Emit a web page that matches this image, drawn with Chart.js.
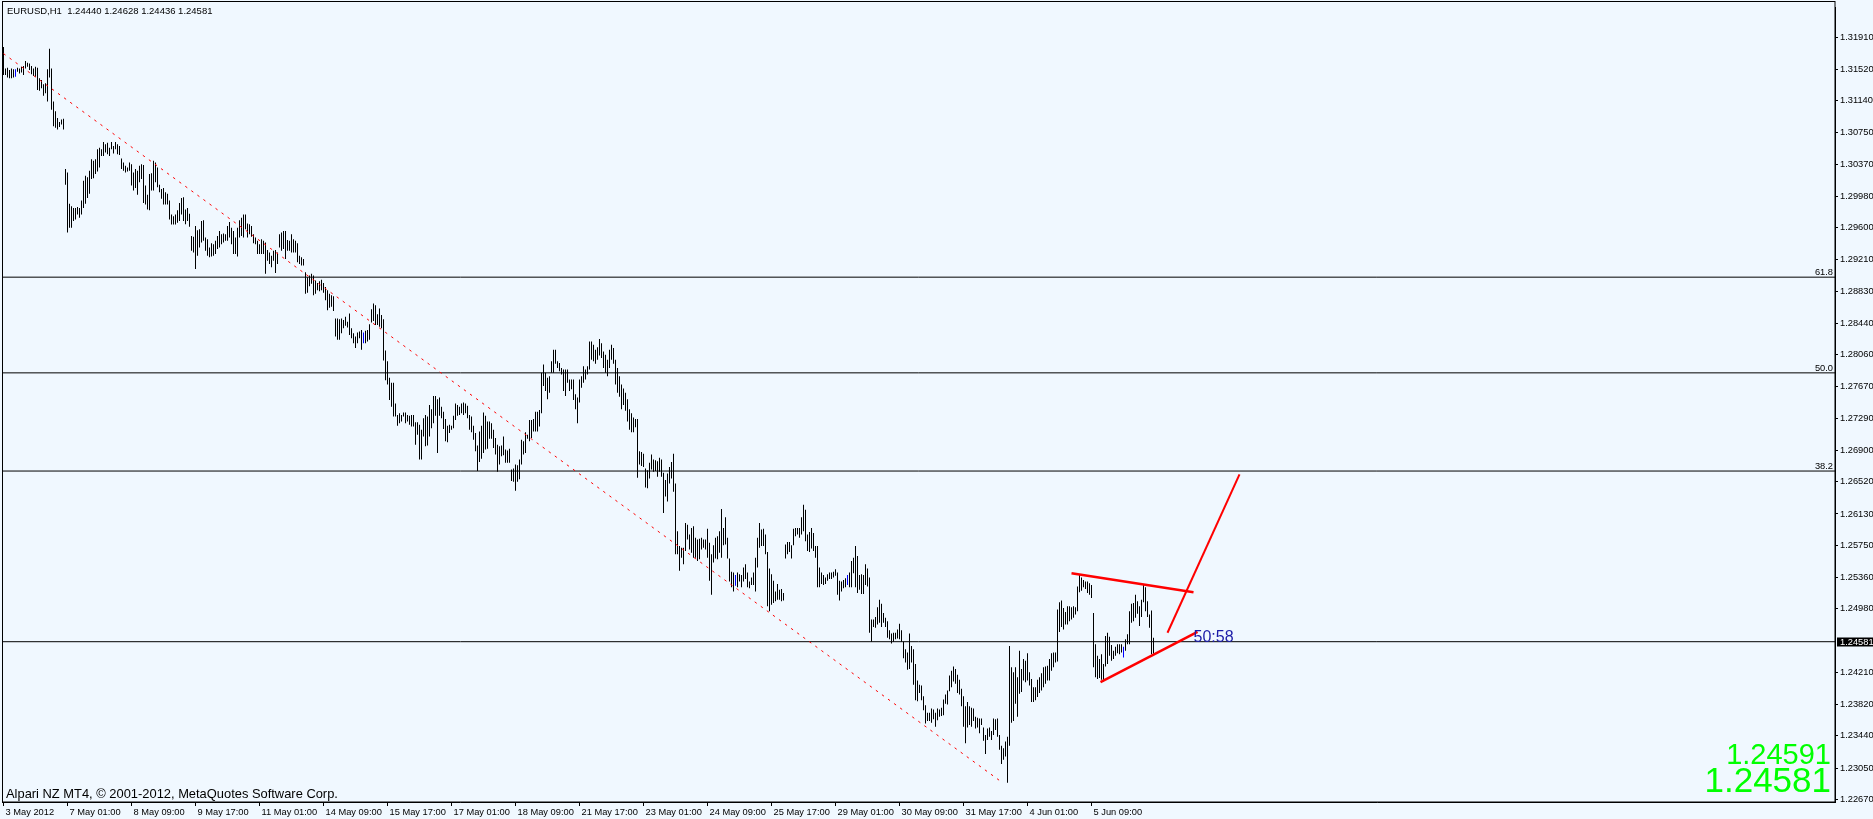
<!DOCTYPE html>
<html>
<head>
<meta charset="utf-8">
<script src="https://cdn.jsdelivr.net/npm/chart.js@4.4.1/dist/chart.umd.min.js"></script>
<style>
  html, body { margin: 0; padding: 0; background: #f0f8ff; }
  #wrap { width: 1873px; height: 819px; position: relative; }
</style>
</head>
<body>
<div id="wrap"><canvas id="chart"></canvas></div>
<script>
const symbolTitle = 'EURUSD,H1  1.24440 1.24628 1.24436 1.24581'
const copyright = 'Alpari NZ MT4, \u00a9 2001-2012, MetaQuotes Software Corp.'

// one label every 32 hourly bars
const timeLabels = [
  '3 May 2012', '7 May 01:00', '8 May 09:00', '9 May 17:00', '11 May 01:00',
  '14 May 09:00', '15 May 17:00', '17 May 01:00', '18 May 09:00', '21 May 17:00',
  '23 May 01:00', '24 May 09:00', '25 May 17:00', '29 May 01:00', '30 May 09:00',
  '31 May 17:00', '4 Jun 01:00', '5 Jun 09:00',
]

const priceTicks = [
  1.31910, 1.31520, 1.31140, 1.30750, 1.30370, 1.29980, 1.29600, 1.29210,
  1.28830, 1.28440, 1.28060, 1.27670, 1.27290, 1.26900, 1.26520, 1.26130,
  1.25750, 1.25360, 1.24980, 1.24210, 1.23820, 1.23440, 1.23050, 1.22670,
]

// EURUSD H1 bar highs / lows
const highs = [
  1.3179,1.3153,1.3154,1.3151,1.3153,1.3152,1.3152,1.3154,1.3153,1.3155,
  1.3156,1.3162,1.3160,1.3159,1.3156,1.3153,1.3155,1.3154,1.3141,1.3139,
  1.3134,1.3135,1.3152,1.3177,1.3153,1.3113,1.3101,1.3093,1.3088,1.3091,
  1.3092,1.3031,1.3027,1.2989,1.2986,1.2984,1.2984,1.2985,1.2984,1.2993,
  1.3017,1.3023,1.3021,1.3029,1.3043,1.3041,1.3043,1.3055,1.3057,1.3055,
  1.3064,1.3061,1.3063,1.3057,1.3064,1.3059,1.3064,1.3061,1.3059,1.3044,
  1.3039,1.3035,1.3033,1.3039,1.3037,1.3027,1.3031,1.3029,1.3035,1.3037,
  1.3036,1.3011,1.3000,1.3025,1.3026,1.3041,1.3039,1.3033,1.3012,1.3007,
  1.3008,1.3003,1.3001,1.2993,1.2976,1.2974,1.2976,1.2981,1.2990,1.2996,
  1.2997,1.2982,1.2984,1.2977,1.2950,1.2949,1.2962,1.2957,1.2958,1.2968,
  1.2969,1.2948,1.2946,1.2936,1.2941,1.2940,1.2944,1.2950,1.2956,1.2952,
  1.2953,1.2952,1.2962,1.2967,1.2960,1.2956,1.2948,1.2960,1.2969,1.2972,
  1.2976,1.2976,1.2965,1.2964,1.2962,1.2952,1.2948,1.2944,1.2940,1.2946,
  1.2944,1.2942,1.2933,1.2930,1.2926,1.2932,1.2933,1.2930,1.2952,1.2954,
  1.2956,1.2956,1.2945,1.2944,1.2952,1.2946,1.2944,1.2941,1.2926,1.2924,
  1.2922,1.2906,1.2900,1.2902,1.2904,1.2902,1.2896,1.2893,1.2895,1.2897,
  1.2893,1.2888,1.2884,1.2880,1.2878,1.2877,1.2850,1.2850,1.2849,1.2850,
  1.2848,1.2852,1.2846,1.2856,1.2838,1.2832,1.2828,1.2833,1.2834,1.2836,
  1.2833,1.2835,1.2836,1.2843,1.2861,1.2868,1.2866,1.2855,1.2862,1.2854,
  1.2849,1.2811,1.2798,1.2778,1.2772,1.2772,1.2747,1.2733,1.2735,1.2733,
  1.2736,1.2736,1.2733,1.2732,1.2733,1.2733,1.2724,1.2724,1.2721,1.2715,
  1.2729,1.2733,1.2731,1.2745,1.2740,1.2756,1.2756,1.2752,1.2754,1.2743,
  1.2737,1.2728,1.2720,1.2721,1.2720,1.2732,1.2747,1.2745,1.2743,1.2747,
  1.2748,1.2747,1.2744,1.2733,1.2731,1.2720,1.2711,1.2696,1.2713,1.2720,
  1.2736,1.2732,1.2725,1.2725,1.2723,1.2715,1.2705,1.2697,1.2695,1.2696,
  1.2707,1.2691,1.2690,1.2692,1.2667,1.2668,1.2673,1.2672,1.2679,1.2703,
  1.2701,1.2712,1.2709,1.2727,1.2727,1.2728,1.2737,1.2737,1.2739,1.2784,
  1.2794,1.2784,1.2778,1.2780,1.2798,1.2812,1.2812,1.2798,1.2796,1.2790,
  1.2788,1.2788,1.2788,1.2776,1.2776,1.2776,1.2758,1.2754,1.2776,1.2780,
  1.2792,1.2788,1.2792,1.2822,1.2822,1.2818,1.2812,1.2815,1.2825,1.2820,
  1.2810,1.2806,1.2800,1.2812,1.2818,1.2814,1.2800,1.2790,1.2780,1.2770,
  1.2765,1.2760,1.2752,1.2740,1.2735,1.2730,1.2728,1.2728,1.2689,1.2688,
  1.2686,1.2668,1.2666,1.2675,1.2685,1.2679,1.2678,1.2677,1.2681,1.2679,
  1.2663,1.2654,1.2662,1.2670,1.2676,1.2686,1.2650,1.2592,1.2574,1.2572,
  1.2572,1.2602,1.2600,1.2588,1.2596,1.2598,1.2584,1.2582,1.2583,1.2584,
  1.2582,1.2582,1.2595,1.2578,1.2564,1.2575,1.2584,1.2586,1.2592,1.2619,
  1.2596,1.2609,1.2584,1.2559,1.2543,1.2542,1.2539,1.2542,1.2540,1.2539,
  1.2548,1.2552,1.2542,1.2531,1.2536,1.2542,1.2560,1.2584,1.2602,1.2594,
  1.2595,1.2588,1.2567,1.2547,1.2540,1.2532,1.2519,1.2528,1.2521,1.2522,
  1.2517,1.2576,1.2579,1.2579,1.2575,1.2595,1.2596,1.2596,1.2596,1.2609,
  1.2624,1.2618,1.2588,1.2591,1.2596,1.2590,1.2574,1.2574,1.2548,1.2542,
  1.2539,1.2536,1.2540,1.2542,1.2542,1.2543,1.2546,1.2542,1.2532,1.2531,
  1.2533,1.2535,1.2539,1.2542,1.2556,1.2560,1.2574,1.2562,1.2539,1.2540,
  1.2539,1.2552,1.2547,1.2536,1.2485,1.2485,1.2488,1.2500,1.2509,1.2504,
  1.2493,1.2487,1.2483,1.2472,1.2468,1.2469,1.2469,1.2473,1.2480,1.2472,
  1.2458,1.2449,1.2445,1.2468,1.2453,1.2449,1.2431,1.2411,1.2406,1.2405,
  1.2392,1.2381,1.2372,1.2372,1.2377,1.2376,1.2372,1.2377,1.2376,1.2378,
  1.2388,1.2394,1.2399,1.2417,1.2423,1.2428,1.2425,1.2418,1.2412,1.2401,
  1.2392,1.2380,1.2385,1.2380,1.2378,1.2377,1.2367,1.2366,1.2365,1.2365,
  1.2354,1.2345,1.2353,1.2354,1.2350,1.2365,1.2364,1.2365,1.2345,1.2332,
  1.2329,1.2337,1.2343,1.2453,1.2427,1.2421,1.2427,1.2415,1.2447,1.2425,
  1.2437,1.2435,1.2444,1.2421,1.2413,1.2403,1.2403,1.2412,1.2415,1.2420,
  1.2427,1.2428,1.2429,1.2437,1.2444,1.2445,1.2445,1.2497,1.2506,1.2508,
  1.2499,1.2494,1.2501,1.2501,1.2500,1.2501,1.2500,1.2525,1.2540,1.2536,
  1.2533,1.2531,1.2531,1.2529,1.2527,1.2493,1.2455,1.2441,1.2437,1.2443,
  1.2431,1.2465,1.2469,1.2464,1.2454,1.2447,1.2452,1.2455,1.2455,1.2455,
  1.2452,1.2461,1.2467,1.2495,1.2504,1.2505,1.2515,1.2507,1.2501,1.2509,
  1.2527,1.2524,1.2507,1.2491,1.2496,1.24628,
]
const lows = [
  1.3145,1.3145,1.3142,1.3141,1.3141,1.3142,1.3143,1.3149,1.3147,1.3148,
  1.3145,1.3153,1.3155,1.3151,1.3146,1.3144,1.3143,1.3127,1.3126,1.3129,
  1.3120,1.3123,1.3113,1.3142,1.3103,1.3083,1.3081,1.3079,1.3082,1.3085,
  1.3079,1.3012,1.2954,1.2960,1.2960,1.2968,1.2970,1.2976,1.2972,1.2976,
  1.2984,1.2989,1.2996,1.3001,1.3019,1.3020,1.3025,1.3028,1.3033,1.3047,
  1.3047,1.3051,1.3049,1.3047,1.3055,1.3050,1.3055,1.3049,1.3048,1.3031,
  1.3029,1.3027,1.3028,1.3029,1.3011,1.3005,1.3008,1.3000,1.3015,1.3019,
  1.2990,1.2988,1.2982,1.2981,1.3005,1.3005,1.3015,1.3009,1.3003,1.2995,
  1.2988,1.2988,1.2988,1.2970,1.2964,1.2964,1.2964,1.2966,1.2968,1.2976,
  1.2968,1.2964,1.2968,1.2961,1.2932,1.2930,1.2910,1.2926,1.2936,1.2942,
  1.2944,1.2932,1.2926,1.2924,1.2925,1.2926,1.2928,1.2934,1.2936,1.2940,
  1.2942,1.2944,1.2944,1.2948,1.2940,1.2928,1.2928,1.2925,1.2948,1.2950,
  1.2948,1.2958,1.2948,1.2952,1.2949,1.2941,1.2940,1.2928,1.2928,1.2928,
  1.2928,1.2904,1.2920,1.2916,1.2912,1.2920,1.2905,1.2916,1.2936,1.2932,
  1.2934,1.2922,1.2932,1.2932,1.2930,1.2930,1.2930,1.2918,1.2916,1.2914,
  1.2914,1.2880,1.2881,1.2889,1.2892,1.2878,1.2880,1.2884,1.2883,1.2884,
  1.2881,1.2872,1.2860,1.2863,1.2864,1.2859,1.2828,1.2824,1.2824,1.2832,
  1.2838,1.2841,1.2839,1.2830,1.2826,1.2820,1.2814,1.2820,1.2826,1.2812,
  1.2820,1.2820,1.2822,1.2824,1.2845,1.2847,1.2842,1.2842,1.2840,1.2838,
  1.2799,1.2775,1.2770,1.2751,1.2743,1.2731,1.2731,1.2720,1.2723,1.2725,
  1.2731,1.2723,1.2725,1.2721,1.2719,1.2719,1.2697,1.2709,1.2679,1.2679,
  1.2707,1.2695,1.2696,1.2707,1.2717,1.2723,1.2732,1.2687,1.2732,1.2729,
  1.2716,1.2701,1.2700,1.2711,1.2715,1.2717,1.2727,1.2732,1.2733,1.2735,
  1.2733,1.2735,1.2729,1.2715,1.2712,1.2703,1.2689,1.2665,1.2676,1.2680,
  1.2687,1.2691,1.2692,1.2704,1.2704,1.2693,1.2685,1.2664,1.2673,1.2683,
  1.2684,1.2675,1.2675,1.2675,1.2653,1.2652,1.2641,1.2652,1.2655,1.2673,
  1.2685,1.2687,1.2704,1.2701,1.2705,1.2713,1.2713,1.2713,1.2719,1.2735,
  1.2768,1.2762,1.2752,1.2760,1.2784,1.2784,1.2795,1.2790,1.2786,1.2782,
  1.2762,1.2756,1.2772,1.2762,1.2764,1.2751,1.2740,1.2723,1.2748,1.2766,
  1.2772,1.2776,1.2782,1.2788,1.2800,1.2798,1.2795,1.2800,1.2805,1.2802,
  1.2790,1.2784,1.2780,1.2790,1.2800,1.2795,1.2770,1.2760,1.2755,1.2740,
  1.2745,1.2738,1.2725,1.2715,1.2712,1.2712,1.2718,1.2657,1.2673,1.2671,
  1.2670,1.2645,1.2644,1.2656,1.2667,1.2664,1.2665,1.2658,1.2664,1.2658,
  1.2614,1.2634,1.2628,1.2650,1.2656,1.2640,1.2564,1.2564,1.2544,1.2560,
  1.2552,1.2568,1.2582,1.2570,1.2566,1.2560,1.2560,1.2556,1.2558,1.2570,
  1.2572,1.2570,1.2560,1.2532,1.2515,1.2554,1.2559,1.2558,1.2566,1.2560,
  1.2575,1.2576,1.2559,1.2531,1.2524,1.2519,1.2526,1.2524,1.2531,1.2524,
  1.2531,1.2534,1.2524,1.2523,1.2527,1.2527,1.2519,1.2548,1.2572,1.2574,
  1.2574,1.2564,1.2501,1.2495,1.2503,1.2505,1.2507,1.2509,1.2509,1.2507,
  1.2508,1.2559,1.2564,1.2567,1.2559,1.2575,1.2586,1.2588,1.2584,1.2588,
  1.2592,1.2580,1.2568,1.2567,1.2571,1.2568,1.2560,1.2524,1.2524,1.2528,
  1.2527,1.2528,1.2532,1.2534,1.2534,1.2536,1.2538,1.2515,1.2508,1.2519,
  1.2523,1.2524,1.2527,1.2524,1.2524,1.2541,1.2524,1.2517,1.2521,1.2516,
  1.2516,1.2527,1.2525,1.2469,1.2458,1.2476,1.2475,1.2479,1.2481,1.2476,
  1.2481,1.2476,1.2463,1.2461,1.2456,1.2458,1.2461,1.2462,1.2461,1.2458,
  1.2438,1.2433,1.2424,1.2425,1.2433,1.2406,1.2387,1.2386,1.2396,1.2387,
  1.2375,1.2359,1.2362,1.2362,1.2360,1.2364,1.2355,1.2363,1.2367,1.2368,
  1.2369,1.2383,1.2382,1.2398,1.2403,1.2410,1.2407,1.2396,1.2394,1.2380,
  1.2355,1.2335,1.2354,1.2357,1.2355,1.2362,1.2353,1.2354,1.2347,1.2357,
  1.2338,1.2322,1.2339,1.2343,1.2339,1.2345,1.2351,1.2343,1.2327,1.2310,
  1.2315,1.2319,1.2287,1.2332,1.2360,1.2362,1.2383,1.2367,1.2395,1.2397,
  1.2411,1.2409,1.2411,1.2405,1.2385,1.2385,1.2387,1.2391,1.2396,1.2399,
  1.2403,1.2407,1.2411,1.2411,1.2423,1.2427,1.2433,1.2434,1.2470,1.2476,
  1.2473,1.2479,1.2479,1.2483,1.2485,1.2487,1.2491,1.2495,1.2518,1.2520,
  1.2524,1.2522,1.2517,1.2515,1.2511,1.2427,1.2415,1.2413,1.2414,1.2412,
  1.2410,1.2428,1.2431,1.2441,1.2435,1.2437,1.2441,1.2444,1.2443,1.2445,
  1.2439,1.2447,1.2455,1.2455,1.2481,1.2483,1.2487,1.2492,1.2477,1.2488,
  1.2506,1.2495,1.2488,1.2475,1.2443,1.24436,
]
const blueBars = [6, 180, 366, 422, 560]

const fibLabels = ['61.8', '50.0', '38.2']
const fibPrices = [1.2900, 1.2784, 1.2665]
const lastPrice = 1.24581
const askPrice = 1.24591

// [bar index, price] end points of the drawn objects
const trendLine = [[0, 1.3171], [498.5, 1.2289]]
const triangleTop = [[534, 1.2541], [595, 1.2518]]
const triangleBottom = [[548.5, 1.2409], [597, 1.2470]]
const breakoutLine = [[582, 1.2469], [618, 1.2661]]
const countdown = { text: '50:58', x: 595, y: 1.2463 }

const X_MIN = -0.5
const X_MAX = 915.75
const FONT = '"Liberation Sans", Arial, sans-serif'

const pts = (arr) => arr.map(([x, y]) => ({ x, y }))
const hline = (y) => [{ x: X_MIN, y }, { x: X_MAX, y }]

const lineSet = (data, color, width, dash) => ({
  type: 'line',
  data,
  borderColor: color,
  borderWidth: width,
  borderDash: dash || [],
  pointRadius: 0,
  fill: false,
  tension: 0,
})

const overlay = {
  id: 'overlay',
  afterDraw(chart) {
    const { ctx, chartArea: a, scales } = chart
    const xs = scales.x
    const ys = scales.y
    ctx.save()

    // frame
    ctx.strokeStyle = '#000'
    ctx.lineWidth = 1
    ctx.strokeRect(2.5, 1.5, a.right - 2.5, a.bottom - 1.5)

    ctx.fillStyle = '#000'
    ctx.textBaseline = 'middle'
    ctx.textAlign = 'left'
    ctx.font = '9.5px ' + FONT
    ctx.fillText(symbolTitle, 7, 11)

    ctx.font = '12.9px ' + FONT
    ctx.fillText(copyright, 6, 794)

    // fibo level captions
    ctx.font = '9.3px ' + FONT
    ctx.textAlign = 'right'
    ctx.textBaseline = 'alphabetic'
    fibPrices.forEach((p, k) => {
      ctx.fillText(fibLabels[k], a.right - 2, Math.round(ys.getPixelForValue(p)) - 2)
    })

    // last price marker on the axis
    const py = Math.round(ys.getPixelForValue(lastPrice))
    ctx.fillStyle = '#000'
    ctx.fillRect(a.right + 2, py - 4.5, 38, 9)
    ctx.fillStyle = '#fff'
    ctx.textAlign = 'left'
    ctx.textBaseline = 'middle'
    ctx.fillText(lastPrice.toFixed(5), a.right + 5, py + 0.5)

    // countdown next to the triangle
    ctx.fillStyle = '#1c1ca8'
    ctx.font = '16px ' + FONT
    ctx.fillText(countdown.text, xs.getPixelForValue(countdown.x), ys.getPixelForValue(countdown.y))

    // big bid / ask
    ctx.fillStyle = '#00ff00'
    ctx.textAlign = 'right'
    ctx.textBaseline = 'alphabetic'
    ctx.font = '29px ' + FONT
    ctx.fillText(askPrice.toFixed(5), a.right - 4, 764)
    ctx.font = '35px ' + FONT
    ctx.fillText(lastPrice.toFixed(5), a.right - 4, 792)

    ctx.restore()
  },
}

const barColors = highs.map((_, i) => (blueBars.includes(i) ? '#0000ff' : '#000000'))

new Chart(document.getElementById('chart'), {
  type: 'bar',
  data: {
    datasets: [
      lineSet(pts(triangleTop), '#ff0000', 2.5),
      lineSet(pts(triangleBottom), '#ff0000', 2.5),
      lineSet(pts(breakoutLine), '#ff0000', 2),
      lineSet(pts(trendLine), '#ff0000', 1, [2.5, 5]),
      {
        type: 'bar',
        data: highs.map((h, i) => ({ x: i, y: [lows[i], h] })),
        backgroundColor: barColors,
        borderWidth: 0,
        barThickness: 1,
        inflateAmount: 0,
      },
      ...fibPrices.map((p) => lineSet(hline(p), '#000', 1)),
      lineSet(hline(lastPrice), '#000', 1),
    ],
  },
  options: {
    responsive: true,
    maintainAspectRatio: false,
    devicePixelRatio: 1,
    animation: false,
    layout: { padding: { left: 2.5, top: 1.5, right: 0, bottom: 0 } },
    plugins: { legend: { display: false }, tooltip: { enabled: false } },
    scales: {
      x: {
        type: 'linear',
        min: X_MIN,
        max: X_MAX,
        offset: false,
        position: 'bottom',
        grid: { offset: false, drawOnChartArea: false, drawTicks: true, tickLength: 4, color: '#000' },
        border: { display: true, color: '#000', width: 1 },
        afterBuildTicks: (scale) => { scale.ticks = timeLabels.map((_, k) => ({ value: k * 32 })) },
        afterFit: (scale) => { scale.height = 17 },
        ticks: {
          autoSkip: false,
          maxRotation: 0,
          align: 'start',
          labelOffset: 2,
          padding: 1,
          color: '#000',
          font: { family: FONT, size: 9.3 },
          callback: (v, idx) => timeLabels[idx],
        },
      },
      y: {
        type: 'linear',
        position: 'right',
        min: 1.22638,
        max: 1.32268,
        grid: { drawOnChartArea: false, drawTicks: true, tickLength: 3, color: '#000' },
        border: { display: true, color: '#000', width: 1 },
        afterBuildTicks: (scale) => { scale.ticks = priceTicks.map((v) => ({ value: v })) },
        afterFit: (scale) => { scale.width = 38 },
        ticks: {
          padding: 2,
          color: '#000',
          font: { family: FONT, size: 9.3 },
          callback: (v) => Number(v).toFixed(5),
        },
      },
    },
  },
  plugins: [overlay],
})
</script>
</body>
</html>
